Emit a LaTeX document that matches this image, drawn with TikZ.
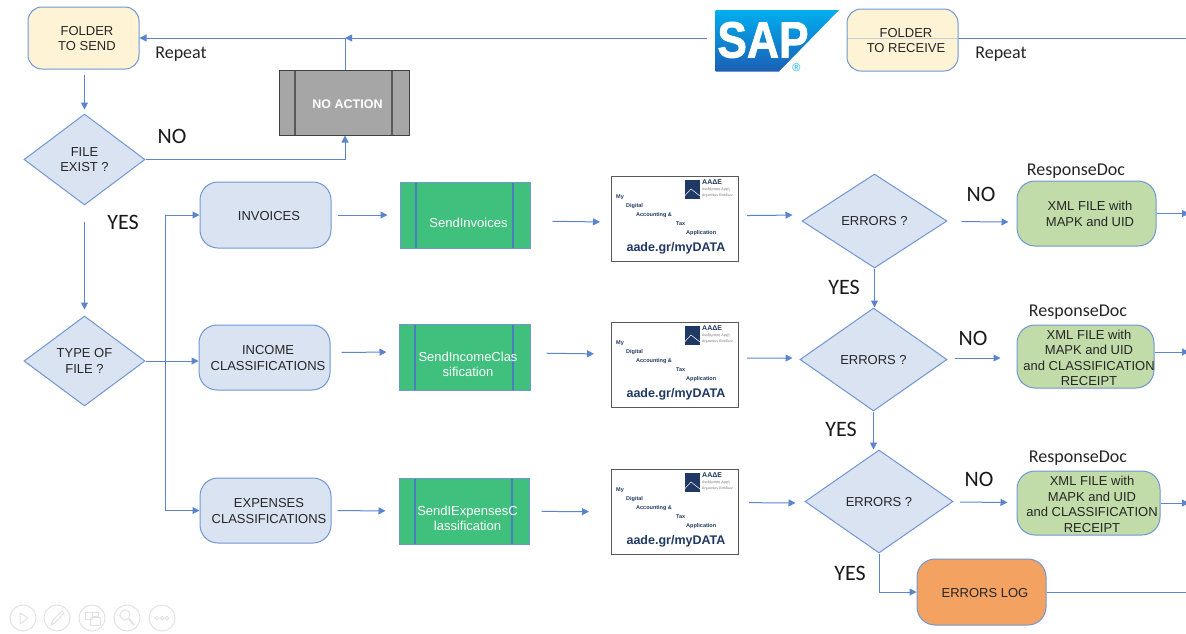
\documentclass[tikz,border=0pt]{standalone}
\usepackage{fontspec}
\setmainfont{Liberation Sans}
\newfontfamily\carlitofont{Carlito}
\usetikzlibrary{arrows.meta,shapes.geometric}

\definecolor{flowblue}{HTML}{5B84D0}
\definecolor{edgeblue}{HTML}{7096D2}
\definecolor{barblue}{HTML}{4A7FBF}
\definecolor{paleblue}{HTML}{DAE3F2}
\definecolor{paleyellow}{HTML}{FFF3D6}
\definecolor{palegreen}{HTML}{C1DCA9}
\definecolor{sendgreen}{HTML}{3FC07C}
\definecolor{logorange}{HTML}{F4A261}
\definecolor{darknavy}{HTML}{1F3864}
\definecolor{toolgray}{HTML}{E2E2E2}
\definecolor{saptop}{HTML}{00AEEF}
\definecolor{sapbottom}{HTML}{1C5FB5}

% text in the boxes sits a little right of centre and low
\newcommand{\dropped}[2][1.5pt]{\raisebox{-#1}[\height][\depth]{\begin{tabular}{@{}c@{}}#2\end{tabular}}}
\newcommand{\inset}[2][2pt]{\hspace*{7pt}\dropped[#1]{#2}}

\tikzset{
	flow/.style={draw=flowblue, line width=1pt, -{Triangle[length=7pt,width=7pt]}},
	flowline/.style={draw=flowblue, line width=1pt},
	boxtext/.style={font=\fontsize{13}{15.5}\selectfont, text=black!85, inner xsep=-8pt, inner ysep=0pt},
	roundbox/.style n args={4}{boxtext, rectangle, rounded corners=#4, draw=edgeblue, line width=1pt,
		fill=#1, minimum width=#2, minimum height=#3},
	question/.style n args={2}{diamond, draw=edgeblue, line width=1pt, fill=paleblue, inner sep=0pt,
		minimum width=#1, minimum height=#2,
		font=\fontsize{13}{15.5}\selectfont, text=black!85},
	sidebars/.style={path picture={
		\draw [#1, line width=1.2pt] ([xshift=16]path picture bounding box.north west) -- ([xshift=16]path picture bounding box.south west);
		\draw [#1, line width=1.2pt] ([xshift=-17]path picture bounding box.north east) -- ([xshift=-17]path picture bounding box.south east);
	}},
	sendbox/.style n args={2}{boxtext, rectangle, draw=edgeblue, line width=1pt, fill=sendgreen, text=white,
		minimum width=#1, minimum height=#2, sidebars=barblue},
	tagbig/.style={font=\carlitofont\fontsize{22}{24}\selectfont, text=black!90, inner sep=0pt},
	tagsmall/.style={font=\carlitofont\fontsize{18}{20}\selectfont, text=black!85, inner sep=0pt},
	tooltip/.style={draw=toolgray, line width=1pt},
	mydata/.pic={
		\node (-box) [rectangle, draw=black!65, line width=1.2pt, fill=white, anchor=north west,
			minimum width=127, minimum height=85, inner sep=0pt] at ( 0, 0 ) {};
		\fill [darknavy] ( 73.5, 4 ) rectangle ( 89, 23 );
		\draw [white, line width=0.5pt] ( 73.5, 20 ) -- ( 80, 13 ) -- ( 89, 20 );
		\node (-tax) [anchor=west, inner sep=0pt, text=darknavy, font=\bfseries\fontsize{7}{8}\selectfont] at ( 91, 6.5 ) {ΑΑΔΕ};
		\node (-authA) [anchor=west, inner sep=0pt, text=black!55, font=\fontsize{3.6}{4}\selectfont] at ( 91, 13.5 ) {Ανεξάρτητη Αρχή};
		\node (-authB) [anchor=west, inner sep=0pt, text=black!55, font=\fontsize{3.6}{4}\selectfont] at ( 91, 20 ) {Δημοσίων Εσόδων};
		\node (-my) [anchor=west, inner sep=0pt, text=darknavy, font=\bfseries\fontsize{5.5}{6}\selectfont] at ( 5, 21 ) {My};
		\node (-digital) [anchor=west, inner sep=0pt, text=darknavy, font=\bfseries\fontsize{5.5}{6}\selectfont] at ( 15, 30 ) {Digital};
		\node (-accounting) [anchor=west, inner sep=0pt, text=darknavy, font=\bfseries\fontsize{5.5}{6}\selectfont] at ( 25, 39 ) {Accounting \&};
		\node (-taxword) [anchor=west, inner sep=0pt, text=darknavy, font=\bfseries\fontsize{5.5}{6}\selectfont] at ( 65, 48 ) {Tax};
		\node (-application) [anchor=west, inner sep=0pt, text=darknavy, font=\bfseries\fontsize{5.5}{6}\selectfont] at ( 75, 57 ) {Application};
		\node (-site) [inner sep=0pt, text=darknavy, font=\bfseries\fontsize{12.5}{14}\selectfont] at ( 65, 72.5 ) {aade.gr/myDATA};
	}
}

\begin{document}
\begin{tikzpicture}[x=1pt,y=-1pt]
	\useasboundingbox ( 0, 0 ) rectangle ( 1186, 633 );

	% left column
	\node (folderSend) [roundbox={paleyellow}{111}{62}{14}] at ( 83.5, 38 ) {\inset{FOLDER\\TO SEND}};
	\node (fileExist) [question={121}{91}] at ( 84.5, 159.5 ) {\dropped{FILE\\EXIST ?}};
	\node (typeFile) [question={121}{90}] at ( 84.5, 361 ) {\dropped{TYPE OF\\FILE ?}};
	\node (noAction) [boxtext, rectangle, draw=black!75, line width=1pt, fill=black!35, text=white,
		font=\bfseries\fontsize{12.5}{15}\selectfont, minimum width=130, minimum height=65, sidebars=black!65] at ( 344, 102.5 ) {\inset[3pt]{NO ACTION}};

	% top row
	\shade [top color=saptop, bottom color=sapbottom] ( 715.5, 10 ) -- ( 839, 10 ) -- ( 779, 71.5 ) -- ( 715.5, 71.5 ) -- cycle;
	\node (sapLogo) [inner sep=0pt, text=white, text height=36pt, text depth=0pt, xscale=0.87,
		font=\bfseries\addfontfeature{FakeBold=1.5}\fontsize{51}{51}\selectfont] at ( 763, 39.5 ) {SAP};
	\node (sapMark) [inner sep=0pt, text=saptop, font=\fontsize{11}{11}\selectfont] at ( 796.5, 67.5 ) {®};
	\coordinate (sapOut) at ( 707, 38 );
	\coordinate (repeatJoin) at ( 345, 38 );
	\coordinate (receiveIn) at ( 1186, 38 );
	\node (folderReceive) [roundbox={paleyellow}{111}{62}{14}] at ( 902.5, 40 ) {\inset{FOLDER\\TO RECEIVE}};

	% document types
	\node (invoices) [roundbox={paleblue}{131}{66}{18}] at ( 265.5, 215 ) {\inset{INVOICES}};
	\node (income) [roundbox={paleblue}{131}{65}{18}] at ( 264.5, 357.5 ) {\inset{INCOME\\CLASSIFICATIONS}};
	\node (expenses) [roundbox={paleblue}{131}{65}{18}] at ( 265.5, 510.5 ) {\inset{EXPENSES\\CLASSIFICATIONS}};

	% send steps
	\node (sendInvoices) [sendbox={130}{66}] at ( 465, 215 ) {\inset[9pt]{SendInvoices}};
	\node (sendIncome) [sendbox={131}{66}] at ( 464.5, 357 ) {\inset[9pt]{SendIncomeClas\\sification}};
	\node (sendExpenses) [sendbox={130}{66}] at ( 464, 511 ) {\inset[9pt]{SendIExpensesC\\lassification}};

	% myDATA cards
	\pic (cardInvoices) at ( 611, 176 ) {mydata};
	\pic (cardIncome) at ( 611, 322 ) {mydata};
	\pic (cardExpenses) at ( 611, 469 ) {mydata};

	% error checks
	\node (errorsA) [question={145}{94}] at ( 874.5, 221 ) {\dropped{ERRORS ?}};
	\node (errorsB) [question={147}{103}] at ( 873.5, 359.5 ) {\dropped{ERRORS ?}};
	\node (errorsC) [question={148}{103}] at ( 879, 501.5 ) {\dropped{ERRORS ?}};

	% responses
	\node (responseA) [roundbox={palegreen}{139}{65}{18}] at ( 1086.5, 213.5 ) {\inset{XML FILE with\\MAPK and UID}};
	\node (responseB) [roundbox={palegreen}{137}{63}{18}] at ( 1085.5, 356.5 ) {\inset[3pt]{XML FILE with\\MAPK and UID\\and CLASSIFICATION\\RECEIPT}};
	\node (responseC) [roundbox={palegreen}{143}{64}{18}] at ( 1088.5, 503 ) {\inset[3pt]{XML FILE with\\MAPK and UID\\and CLASSIFICATION\\RECEIPT}};
	\node (errorsLog) [roundbox={logorange}{129}{66}{18}] at ( 981.5, 592 ) {\inset{ERRORS LOG}};

	\node (docTagA) [tagsmall] at ( 1076, 171 ) {ResponseDoc};
	\node (docTagB) [tagsmall] at ( 1078, 312 ) {ResponseDoc};
	\node (docTagC) [tagsmall] at ( 1078, 458 ) {ResponseDoc};

	% labels
	\node (repeatSend) [tagsmall] at ( 181, 54 ) {Repeat};
	\node (repeatReceive) [tagsmall] at ( 1001, 54 ) {Repeat};
	\node (noExist) [tagbig] at ( 172, 136 ) {NO};
	\node (yesExist) [tagbig] at ( 123, 222 ) {YES};
	\node (noA) [tagbig] at ( 981, 194 ) {NO};
	\node (noB) [tagbig] at ( 973, 338 ) {NO};
	\node (noC) [tagbig] at ( 979, 479 ) {NO};
	\node (yesA) [tagbig] at ( 844, 287 ) {YES};
	\node (yesB) [tagbig] at ( 841, 429 ) {YES};
	\node (yesC) [tagbig] at ( 850, 573 ) {YES};

	% top connectors
	\draw [flow] (sapOut) -- (repeatJoin);
	\draw [flow] (repeatJoin) -- (folderSend.east);
	\draw [flowline] (repeatJoin |- noAction.north) -- (repeatJoin);
	\draw [flowline] (receiveIn) -- ([yshift=2]folderReceive.east);
	\draw [flowline, opacity=0.35] ([yshift=2]folderReceive.east) -- ([yshift=2]folderReceive.west);

	% left connectors
	\draw [flow, shorten <=5, shorten >=4] (fileExist.north |- folderSend.south) -- (fileExist.north);
	\draw [flow] (fileExist.east) -| (repeatJoin |- noAction.south);
	\draw [flow, shorten <=16, shorten >=6] (fileExist.south) -- (typeFile.north);
	\coordinate (typeJoin) at ( 165, 361 );
	\draw [flowline] (typeFile.east) -- (typeJoin);
	\draw [flow] (typeJoin) -- (typeJoin -| income.west);
	\draw [flow] (typeJoin) |- (invoices.west);
	\draw [flow] (typeJoin) |- (expenses.west);

	% row connectors
	\draw [flow, shorten <=6, shorten >=12] (invoices) -- (sendInvoices);
	\draw [flow, shorten <=11, shorten >=12] ([yshift=5]income.east) -- ([yshift=5]sendIncome.west);
	\draw [flow, shorten <=6, shorten >=13] (expenses) -- (sendExpenses);
	\draw [flow, shorten <=22, shorten >=11] ([yshift=-6]sendInvoices.east) -- ([yshift=-3]cardInvoices-box.west);
	\draw [flow, shorten <=16, shorten >=17] ([yshift=4]sendIncome.east) -- ([yshift=11]cardIncome-box.west);
	\draw [flow, shorten <=12, shorten >=22] (sendExpenses) -- (cardExpenses-box);
	\draw [flow, shorten <=8, shorten >=9] ([yshift=3.5]cardInvoices-box.east) -- ([yshift=6]errorsA.west);
	\draw [flow, shorten <=8, shorten >=7] ([yshift=7]cardIncome-box.east) -- ([yshift=1.5]errorsB.west);
	\draw [flow, shorten <=10, shorten >=9] ([yshift=9.5]cardExpenses-box.east) -- ([yshift=-1.5]errorsC.west);
	\draw [flow, shorten <=15, shorten >=8] (errorsA) -- ([yshift=-8.5]responseA.west);
	\draw [flow, shorten <=7, shorten >=16] ([yshift=1.5]errorsB.east) -- ([yshift=-1.5]responseB.west);
	\draw [flow, shorten <=7, shorten >=9] (errorsC) -- (responseC);

	% down the error checks
	\draw [flow] (errorsA.south) -- (errorsA.south |- errorsB.north);
	\draw [flow] (errorsB.south) -- (errorsB.south |- errorsC.north);
	\draw [flow] (errorsC.south) |- (errorsLog.west);

	% off the right edge
	\coordinate (outA) at ( 1189, 213.5 );
	\coordinate (outB) at ( 1189, 352 );
	\coordinate (outC) at ( 1189, 503 );
	\coordinate (outLog) at ( 1186, 592 );
	\draw [flow] (responseA.east) -- (outA);
	\draw [flow] ([yshift=4.5]responseB.east) -- (outB);
	\draw [flow] (responseC.east) -- (outC);
	\draw [flowline] (errorsLog.east) -- (outLog);

	% slide toolbar
	\draw [tooltip] ( 23, 618 ) circle ( 13 );
	\draw [tooltip] ( 57, 618 ) circle ( 13 );
	\draw [tooltip] ( 92, 618 ) circle ( 13 );
	\draw [tooltip] ( 127, 618 ) circle ( 13 );
	\draw [tooltip] ( 162, 618 ) circle ( 13 );
	\draw [tooltip] ( 20, 613 ) -- ( 28, 618 ) -- ( 20, 624 ) -- cycle;
	\draw [tooltip] ( 51, 625 ) -- ( 53, 620 ) -- ( 62, 611 ) -- ( 64, 613 ) -- ( 55, 623 ) -- cycle;
	\draw [tooltip] ( 85, 612 ) rectangle ( 92, 619 );
	\draw [tooltip] ( 92, 612 ) rectangle ( 98, 616 );
	\draw [tooltip] ( 90, 617 ) rectangle ( 100, 625 );
	\draw [tooltip] ( 125, 615 ) circle ( 5 );
	\draw [tooltip, line width=2pt] ( 129, 619 ) -- ( 134, 625 );
	\draw [tooltip] ( 157, 618 ) circle ( 1.8 );
	\draw [tooltip] ( 162, 618 ) circle ( 1.8 );
	\draw [tooltip] ( 167, 618 ) circle ( 1.8 );
\end{tikzpicture}
\end{document}
